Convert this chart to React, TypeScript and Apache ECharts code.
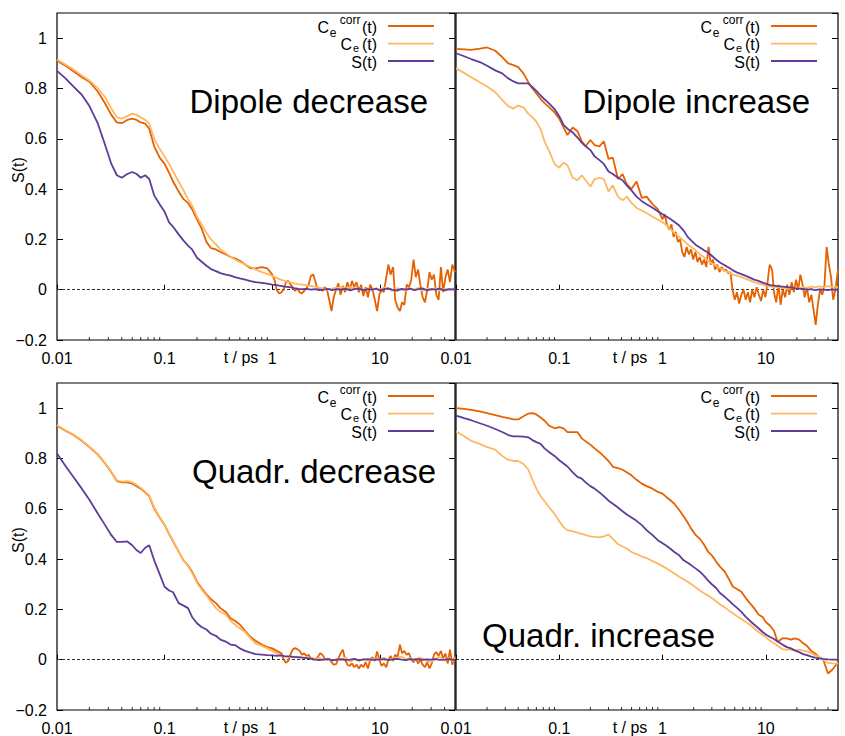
import React, { useEffect, useRef } from "react";
import * as echarts from "echarts";

// shared time grid (ps)
const T = [
  0.01, 0.012, 0.014, 0.017, 0.02, 0.024, 0.028, 0.032, 0.036, 0.04,
  0.045, 0.05, 0.055, 0.06, 0.066, 0.072, 0.08, 0.09, 0.1, 0.11,
  0.12, 0.135, 0.15, 0.165, 0.18, 0.2, 0.22, 0.245, 0.27, 0.3,
  0.33, 0.37, 0.41, 0.45, 0.5, 0.56, 0.63, 0.7, 0.8, 0.9,
  1, 1.1, 1.2, 1.3, 1.45, 1.6, 1.75, 1.9, 2.1, 2.3,
  2.5, 2.75, 3, 3.3, 3.6, 4, 4.4, 4.8, 5.3, 5.8,
  6.4, 7, 7.7, 8.5, 9.3, 10, 11, 12, 13, 14.5,
  16, 17.5, 19, 21, 23, 25, 27.5, 30, 33, 36,
  40, 44, 48, 50,
];

// denser time grid (ps) for the noisy tails of C_e^corr(t)
const TN = [
  1, 1.05, 1.1, 1.16, 1.22, 1.28, 1.34, 1.41, 1.48, 1.55,
  1.63, 1.71, 1.8, 1.89, 1.98, 2.08, 2.18, 2.29, 2.41, 2.53,
  2.65, 2.79, 2.93, 3.07, 3.23, 3.39, 3.56, 3.73, 3.92, 4.12,
  4.32, 4.54, 4.76, 5, 5.25, 5.52, 5.79, 6.08, 6.39, 6.7,
  7.04, 7.39, 7.76, 8.15, 8.56, 8.99, 9.44, 9.91, 10.4, 10.9,
  11.5, 12, 12.6, 13.3, 13.9, 14.6, 15.4, 16.1, 16.9, 17.8,
  18.7, 19.6, 20.6, 21.6, 22.7, 23.8, 25, 26.3, 27.6, 29,
  30.4, 31.9, 33.5, 35.2, 37, 38.8, 40.8, 42.8, 44.9, 47.2,
  50,
];

// Dipole decrease
const ddCorr = [
  0.91, 0.89, 0.87, 0.845, 0.827, 0.787, 0.74, 0.695, 0.665, 0.662,
  0.675, 0.68, 0.675, 0.665, 0.66, 0.64, 0.57, 0.525, 0.5, 0.465,
  0.43, 0.39, 0.36, 0.345, 0.32, 0.28, 0.245, 0.19, 0.165, 0.16,
  0.15, 0.14, 0.13, 0.125, 0.115, 0.1, 0.085, 0.085, 0.09, 0.085,
];
const ddCorrTail = [
  0.06, 0.04, 0.0, -0.015, -0.01, 0.0, 0.03, 0.035, 0.02, 0.01,
  -0.005, 0.005, -0.01, -0.015, -0.005, 0.005, 0.02, 0.055, 0.06, 0.03,
  0.0, 0.005, -0.005, 0.01, 0.0, -0.04, -0.085, -0.03, 0.0, 0.025,
  -0.02, 0.015, -0.01, 0.03, 0.0, 0.035, 0.01, 0.03, -0.01, 0.02,
  -0.025, 0.01, -0.03, 0.02, 0.0, -0.04, -0.085, -0.02, 0.0, -0.01,
  0.05, 0.1, 0.06, 0.09, -0.04, -0.07, -0.085, -0.05, -0.06, 0.02,
  0.01, 0.04, 0.12, 0.05, 0.08, 0.02, -0.03, -0.05, 0.0, 0.07,
  0.04, 0.06, -0.02, -0.04, 0.09, -0.01, 0.05, 0.08, 0.03, 0.1,
  0.07,
];
const ddCe = [
  0.915, 0.895, 0.877, 0.852, 0.832, 0.8, 0.765, 0.72, 0.685, 0.68,
  0.69, 0.7, 0.695, 0.685, 0.675, 0.66, 0.6, 0.56, 0.53, 0.5,
  0.47, 0.43, 0.395, 0.36, 0.335, 0.29, 0.26, 0.225, 0.2, 0.18,
  0.16, 0.145, 0.13, 0.12, 0.11, 0.1, 0.09, 0.08, 0.07, 0.063,
  0.055, 0.047, 0.04, 0.035, 0.03, 0.025, 0.022, 0.02, 0.017, 0.014,
  0.012, 0.008, 0.005, 0.0, 0.004, 0.008, 0.01, 0.006, 0.01, 0.003,
  0.007, 0.0, 0.005, -0.004, 0.006, 0.0, 0.008, 0.004, -0.005, 0.006,
  0.0, -0.006, 0.005, 0.0, 0.008, -0.004, 0.004, 0.0, 0.006, -0.003,
  0.004, 0.0, 0.005, 0.0,
];
const ddS = [
  0.87, 0.84, 0.81, 0.775, 0.73, 0.66, 0.575, 0.5, 0.455, 0.445,
  0.46, 0.468, 0.46, 0.445, 0.455, 0.44, 0.375, 0.34, 0.31, 0.268,
  0.25, 0.22, 0.195, 0.175, 0.16, 0.127, 0.112, 0.095, 0.082, 0.074,
  0.066, 0.06, 0.056, 0.05, 0.045, 0.04, 0.034, 0.03, 0.027, 0.024,
  0.02, 0.018, 0.015, 0.012, 0.01, 0.006, 0.003, 0.002, 0.003, 0.0,
  0.002, -0.002, 0.0, 0.003, -0.002, 0.002, 0.0, 0.004, -0.003, 0.002,
  0.005, -0.002, 0.002, 0.0, 0.004, -0.003, 0.002, 0.005, 0.0, -0.004,
  0.003, 0.0, 0.004, -0.002, 0.002, 0.005, -0.003, 0.002, 0.0, 0.004,
  -0.003, 0.002, 0.0, 0.003,
];

// Dipole increase
const diCorr = [
  0.957, 0.955, 0.953, 0.958, 0.963, 0.95, 0.925, 0.9, 0.893, 0.885,
  0.86, 0.826, 0.8, 0.78, 0.758, 0.742, 0.725, 0.705, 0.68, 0.645,
  0.615, 0.645, 0.63, 0.59, 0.57, 0.595, 0.575, 0.57, 0.59, 0.52,
  0.525, 0.44, 0.46, 0.42, 0.4, 0.43, 0.365, 0.37, 0.34, 0.32,
];
const diCorrTail = [
  0.28, 0.3, 0.26, 0.24, 0.26, 0.21, 0.23, 0.19, 0.2, 0.15,
  0.13, 0.17, 0.14, 0.16, 0.12, 0.15, 0.11, 0.13, 0.1, 0.12,
  0.09, 0.17, 0.1, 0.12, 0.08, 0.1, 0.07, 0.09, 0.075, 0.08,
  0.065, 0.07, 0.0, -0.04, -0.01, -0.055, -0.02, 0.0, -0.04, -0.01,
  -0.05, 0.0, -0.03, 0.01, -0.02, -0.045, 0.0, -0.03, 0.03, 0.1,
  0.08, -0.01, -0.05, 0.02, -0.06, 0.0, -0.03, 0.02, -0.02, 0.03,
  -0.01, 0.04, 0.0, 0.06, 0.02, -0.03, 0.01, -0.05, -0.02, -0.08,
  -0.14, -0.06, 0.0, -0.02, 0.02, 0.17, 0.1, 0.05, -0.04, 0.0,
  0.08,
];
const diCe = [
  0.88, 0.862, 0.845, 0.825, 0.808, 0.785, 0.755, 0.73, 0.72, 0.732,
  0.725, 0.7, 0.685, 0.668, 0.638, 0.59, 0.55, 0.5, 0.485, 0.505,
  0.495, 0.445, 0.435, 0.455, 0.435, 0.41, 0.44, 0.445, 0.44, 0.39,
  0.415, 0.37, 0.355, 0.37, 0.345, 0.325, 0.315, 0.305, 0.29, 0.278,
  0.268, 0.255, 0.24, 0.225, 0.21, 0.195, 0.18, 0.17, 0.155, 0.14,
  0.13, 0.115, 0.105, 0.095, 0.085, 0.075, 0.068, 0.06, 0.055, 0.05,
  0.043, 0.037, 0.03, 0.025, 0.02, 0.015, 0.012, 0.01, 0.01, 0.006,
  0.004, 0.005, 0.008, 0.006, 0.01, 0.007, 0.012, 0.009, 0.013, 0.01,
  0.014, 0.01, 0.012, 0.01,
];
const diS = [
  0.94, 0.928, 0.917, 0.905, 0.89, 0.872, 0.86, 0.84, 0.828, 0.82,
  0.82, 0.82, 0.805, 0.79, 0.772, 0.757, 0.74, 0.718, 0.69, 0.655,
  0.64, 0.625, 0.605, 0.585, 0.57, 0.555, 0.53, 0.515, 0.5, 0.47,
  0.46, 0.445, 0.435, 0.415, 0.395, 0.37, 0.352, 0.34, 0.326, 0.312,
  0.3, 0.29, 0.28, 0.27, 0.255, 0.235, 0.21, 0.195, 0.178, 0.168,
  0.158, 0.148, 0.135, 0.12, 0.108, 0.097, 0.087, 0.077, 0.068, 0.062,
  0.055, 0.048, 0.04, 0.035, 0.028, 0.024, 0.018, 0.016, 0.014, 0.012,
  0.01, 0.008, 0.006, 0.004, 0.003, 0.0, 0.002, -0.002, 0.001, 0.0,
  -0.002, 0.001, -0.001, 0.0,
];

// Quadrupole decrease
const qdCorr = [
  0.93, 0.91, 0.895, 0.87, 0.845, 0.815, 0.78, 0.745, 0.71, 0.705,
  0.705, 0.7, 0.69, 0.68, 0.665, 0.65, 0.6, 0.565, 0.535, 0.5,
  0.47, 0.43, 0.395, 0.375, 0.35, 0.31, 0.285, 0.26, 0.24, 0.225,
  0.205, 0.19, 0.165, 0.155, 0.14, 0.115, 0.09, 0.075, 0.06, 0.05,
];
const qdCorrTail = [
  0.045, 0.04, 0.035, 0.03, 0.025, 0.0, -0.012, -0.005, 0.02, 0.04,
  0.046, 0.042, 0.035, 0.02, 0.025, 0.015, 0.02, 0.005, 0.0, 0.003,
  0.01, 0.026, 0.02, 0.005, 0.0, 0.005, -0.01, -0.02, -0.018, 0.005,
  0.025, 0.04, 0.0, -0.02, -0.025, -0.015, -0.03, -0.02, -0.035, -0.02,
  -0.03, -0.01, -0.035, 0.0, 0.01, -0.005, 0.033, 0.0, -0.025, -0.015,
  -0.03, 0.0, 0.015, -0.005, 0.02, 0.01, 0.06, 0.025, 0.035, 0.02,
  0.025, 0.0, -0.01, 0.005, -0.015, 0.0, -0.02, -0.03, -0.01, -0.035,
  -0.015, 0.02, 0.03, 0.015, 0.035, 0.005, 0.025, -0.015, 0.04, -0.02,
  0.015,
];
const qdCe = [
  0.932, 0.912, 0.897, 0.872, 0.847, 0.817, 0.782, 0.747, 0.713, 0.708,
  0.71, 0.705, 0.695, 0.683, 0.668, 0.653, 0.605, 0.567, 0.537, 0.502,
  0.47, 0.43, 0.395, 0.372, 0.345, 0.305, 0.28, 0.255, 0.23, 0.205,
  0.19, 0.18, 0.155, 0.14, 0.125, 0.11, 0.085, 0.065, 0.055, 0.045,
  0.035, 0.025, 0.018, 0.012, 0.01, 0.012, 0.008, 0.01, 0.006, 0.008,
  0.002, 0.006, 0.0, 0.004, -0.005, 0.003, -0.003, 0.01, -0.008, 0.002,
  -0.006, 0.004, -0.004, 0.002, 0.006, 0.0, 0.008, -0.004, 0.004, 0.008,
  0.012, 0.002, 0.006, -0.003, 0.008, 0.004, -0.004, -0.01, 0.004, 0.012,
  -0.004, 0.006, -0.006, 0.008,
];
const qdS = [
  0.82, 0.77, 0.73, 0.68, 0.636, 0.58, 0.535, 0.495, 0.468, 0.468,
  0.47, 0.455, 0.435, 0.424, 0.445, 0.455, 0.395, 0.34, 0.29, 0.275,
  0.268, 0.225, 0.215, 0.205, 0.17, 0.145, 0.13, 0.12, 0.103, 0.095,
  0.08, 0.072, 0.06, 0.058, 0.045, 0.035, 0.028, 0.022, 0.02, 0.018,
  0.017, 0.015, 0.017, 0.014, 0.013, 0.01, 0.01, 0.008, 0.006, 0.004,
  0.0, -0.002, 0.0, 0.002, -0.003, 0.0, 0.002, -0.002, 0.0, 0.003,
  -0.002, 0.0, 0.002, -0.001, 0.001, 0.0, 0.002, -0.002, 0.001, 0.003,
  0.0, -0.002, 0.002, 0.0, 0.002, -0.001, 0.001, 0.0, 0.002, -0.001,
  0.0, 0.002, -0.001, 0.0,
];

// Quadrupole increase
const qiCorr = [
  1.0, 0.997, 0.993, 0.987, 0.98, 0.972, 0.965, 0.96, 0.955, 0.955,
  0.968, 0.978, 0.98, 0.975, 0.963, 0.95, 0.93, 0.92, 0.925, 0.92,
  0.905, 0.905, 0.905, 0.88, 0.868, 0.855, 0.84, 0.825, 0.808, 0.79,
  0.767, 0.762, 0.755, 0.745, 0.733, 0.715, 0.7, 0.69, 0.68, 0.667,
  0.66, 0.645, 0.633, 0.62, 0.595, 0.57, 0.545, 0.52, 0.495, 0.48,
  0.46, 0.43, 0.415, 0.39, 0.37, 0.35, 0.32, 0.29, 0.28, 0.27,
  0.245, 0.225, 0.205, 0.18, 0.17, 0.15, 0.135, 0.115, 0.07, 0.085,
  0.085, 0.08, 0.085, 0.08, 0.065, 0.055, 0.035, 0.025, 0.01, 0.0,
  -0.055, -0.04, -0.02, -0.01,
];
const qiCe = [
  0.907, 0.888, 0.87, 0.858, 0.845, 0.835, 0.81, 0.795, 0.79, 0.79,
  0.778, 0.757, 0.715, 0.68, 0.65, 0.63, 0.605, 0.58, 0.55, 0.527,
  0.515, 0.51, 0.505, 0.5, 0.495, 0.49, 0.488, 0.486, 0.49, 0.497,
  0.48, 0.46, 0.45, 0.442, 0.428, 0.42, 0.41, 0.404, 0.392, 0.382,
  0.372, 0.362, 0.352, 0.343, 0.33, 0.32, 0.31, 0.3, 0.287, 0.275,
  0.265, 0.255, 0.245, 0.232, 0.22, 0.208, 0.195, 0.185, 0.172, 0.162,
  0.15, 0.14, 0.125, 0.11, 0.098, 0.09, 0.075, 0.065, 0.055, 0.042,
  0.04, 0.04, 0.038, 0.04, 0.036, 0.033, 0.025, 0.018, 0.01, 0.0,
  -0.013, -0.015, -0.016, -0.016,
];
const qiS = [
  0.97, 0.96, 0.952, 0.94, 0.93, 0.917, 0.905, 0.893, 0.888, 0.888,
  0.887, 0.884, 0.873, 0.865, 0.858, 0.84, 0.825, 0.81, 0.793, 0.78,
  0.768, 0.745, 0.727, 0.72, 0.705, 0.69, 0.68, 0.665, 0.65, 0.632,
  0.62, 0.605, 0.59, 0.577, 0.565, 0.552, 0.535, 0.515, 0.495, 0.475,
  0.463, 0.452, 0.44, 0.428, 0.415, 0.395, 0.385, 0.375, 0.362, 0.35,
  0.335, 0.315, 0.3, 0.285, 0.265, 0.25, 0.235, 0.22, 0.205, 0.19,
  0.17, 0.155, 0.14, 0.125, 0.11, 0.1, 0.09, 0.082, 0.072, 0.06,
  0.05, 0.045, 0.037, 0.03, 0.022, 0.018, 0.012, 0.008, 0.005, 0.003,
  0.001, 0.0, 0.0, -0.002,
];

const X_MIN = 0.01;
const X_MAX = 50;
const Y_MIN = -0.2;
const Y_MAX = 1.1;
const Y_STEP = 0.2;

const COL_CORR = "#e66101";
const COL_CE = "#fdb863";
const COL_S = "#5e3c99";
const FONT = '"Liberation Sans", Arial, Helvetica, sans-serif';

type Panel = {
  title: string;
  left: number;
  top: number;
  width: number;
  height: number;
  corr: number[];
  corrTail?: number[];
  ce: number[];
  s: number[];
  yLabels: boolean;
  titleX: number;
  titleY: number;
  tpsX: number;
};

const panels: Panel[] = [
  { title: "Dipole decrease", left: 57, top: 13, width: 398, height: 327, corr: ddCorr, corrTail: ddCorrTail, ce: ddCe, s: ddS, yLabels: true, titleX: 428, titleY: 101, tpsX: 241 },
  { title: "Dipole increase", left: 456, top: 13, width: 382, height: 327, corr: diCorr, corrTail: diCorrTail, ce: diCe, s: diS, yLabels: false, titleX: 810, titleY: 101, tpsX: 630 },
  { title: "Quadr. decrease", left: 57, top: 383, width: 398, height: 327, corr: qdCorr, corrTail: qdCorrTail, ce: qdCe, s: qdS, yLabels: true, titleX: 436, titleY: 471, tpsX: 241 },
  { title: "Quadr. increase", left: 456, top: 383, width: 382, height: 327, corr: qiCorr, ce: qiCe, s: qiS, yLabels: false, titleX: 715, titleY: 635, tpsX: 630 },
];

function minorTickValues(): number[] {
  const out: number[] = [];
  for (let k = -2; k <= 1; k++) {
    for (let m = 2; m <= 9; m++) {
      const v = m * Math.pow(10, k);
      if (v < X_MAX) out.push(v);
    }
  }
  return out;
}

function txt(text: string, x: number, y: number, size: number, align: string, vAlign = "middle", rotation = 0) {
  return {
    type: "text",
    x,
    y,
    rotation,
    silent: true,
    z: 100,
    style: {
      text,
      fill: "#000",
      font: `${size}px ${FONT}`,
      align,
      textAlign: align,
      verticalAlign: vAlign,
      textVerticalAlign: vAlign,
    },
  };
}

function legendGraphics(p: Panel) {
  const rx = p.left + p.width;
  const ry = p.top;
  const g: any[] = [];
  // row 1: C_e^corr(t)
  g.push(txt("C", rx - 126, ry + 14.5, 16, "right"));
  g.push(txt("e", rx - 118.5, ry + 20, 12, "right"));
  g.push(txt("corr", rx - 94.5, ry + 7, 12, "right"));
  g.push(txt("(t)", rx - 78, ry + 14.5, 16, "right"));
  // row 2: C_e(t)
  g.push(txt("C", rx - 103, ry + 31, 16, "right"));
  g.push(txt("e", rx - 96, ry + 35, 11, "right"));
  g.push(txt("(t)", rx - 78, ry + 31.5, 16, "right"));
  // row 3: S(t)
  g.push(txt("S(t)", rx - 78, ry + 49, 16, "right"));
  const rows = [
    { y: ry + 13, c: COL_CORR },
    { y: ry + 30.7, c: COL_CE },
    { y: ry + 48, c: COL_S },
  ];
  rows.forEach((r) => {
    g.push({
      type: "line",
      silent: true,
      z: 100,
      shape: { x1: rx - 67, y1: r.y, x2: rx - 21, y2: r.y },
      style: { stroke: r.c, lineWidth: 1.8 },
    });
  });
  return g;
}

function buildOption() {
  const grids: any[] = [];
  const xAxes: any[] = [];
  const yAxes: any[] = [];
  const series: any[] = [];
  const graphic: any[] = [];
  const minors = minorTickValues();

  const xFmt = (v: number) => (v >= 1 ? String(Math.round(v)) : String(Number(v.toPrecision(1))));
  const yFmt = (v: number) => {
    const r = Math.round(v * 10) / 10;
    return r < 0 ? "\u2212" + String(-r) : String(r);
  };

  panels.forEach((p, i) => {
    grids.push({
      left: p.left,
      top: p.top,
      width: p.width,
      height: p.height,
      show: true,
      borderColor: "#000",
      borderWidth: 1.2,
      backgroundColor: "transparent",
      containLabel: false,
    });
    xAxes.push({
      gridIndex: i,
      type: "log",
      logBase: 10,
      min: X_MIN,
      max: X_MAX,
      axisLine: { show: false },
      axisTick: { show: true, inside: true, length: 5, lineStyle: { color: "#000", width: 1 } },
      axisLabel: {
        show: true,
        interval: 0,
        showMaxLabel: false,
        color: "#000",
        fontSize: 16,
        fontFamily: FONT,
        margin: 10,
        formatter: xFmt,
      },
      splitLine: { show: false },
    });
    yAxes.push({
      gridIndex: i,
      type: "value",
      position: "left",
      min: Y_MIN,
      max: Y_MAX,
      interval: Y_STEP,
      axisLine: { show: false },
      axisTick: { show: p.yLabels, inside: true, length: 6, lineStyle: { color: "#000", width: 1 } },
      axisLabel: {
        show: p.yLabels,
        showMaxLabel: false,
        color: "#000",
        fontSize: 16,
        fontFamily: FONT,
        margin: 10,
        formatter: yFmt,
      },
      splitLine: { show: false },
    });
    yAxes.push({
      gridIndex: i,
      type: "value",
      position: "right",
      min: Y_MIN,
      max: Y_MAX,
      interval: Y_STEP,
      axisLine: { show: false },
      axisTick: { show: true, inside: true, length: 6, lineStyle: { color: "#000", width: 1 } },
      axisLabel: { show: false },
      splitLine: { show: false },
    });
    const base = {
      type: "line",
      xAxisIndex: i,
      yAxisIndex: 2 * i,
      showSymbol: false,
      symbol: "none",
      silent: true,
    };
    const corrData: number[][] = p.corr.map((v, k) => [T[k], v]);
    if (p.corrTail) {
      p.corrTail.forEach((v, k) => corrData.push([TN[k], v]));
    }
    series.push({
      ...base,
      name: "C_e^corr(t)",
      data: corrData,
      lineStyle: { color: COL_CORR, width: 1.8 },
      itemStyle: { color: COL_CORR },
      z: 3,
      markLine: {
        silent: true,
        symbol: ["none", "none"],
        label: { show: false },
        lineStyle: { type: [3, 2], color: "#333", width: 1 },
        data: [{ yAxis: 0 }],
        z: 1,
      },
    });
    series.push({
      ...base,
      name: "C_e(t)",
      data: T.map((t, k) => [t, p.ce[k]]),
      lineStyle: { color: COL_CE, width: 1.8 },
      itemStyle: { color: COL_CE },
      z: 4,
    });
    series.push({
      ...base,
      name: "S(t)",
      data: T.map((t, k) => [t, p.s[k]]),
      lineStyle: { color: COL_S, width: 1.8 },
      itemStyle: { color: COL_S },
      z: 5,
    });
    series.push({
      type: "scatter",
      xAxisIndex: i,
      yAxisIndex: 2 * i,
      silent: true,
      clip: false,
      symbol: "rect",
      symbolSize: [1, 3],
      symbolOffset: [0, -1.5],
      itemStyle: { color: "#000" },
      data: minors.map((v) => [v, Y_MIN]),
      z: 6,
    });

    graphic.push(txt(p.title, p.titleX, p.titleY, 33, "right"));
    graphic.push(txt("t / ps", p.tpsX, p.top + p.height + 17.5, 16, "center"));
    if (p.yLabels) {
      graphic.push(txt("S(t)", 18, p.top + 157, 16, "center", "middle", Math.PI / 2));
    }
    legendGraphics(p).forEach((g) => graphic.push(g));
  });

  return {
    animation: false,
    backgroundColor: "#fff",
    grid: grids,
    xAxis: xAxes,
    yAxis: yAxes,
    series,
    graphic,
  };
}

export default function App() {
  const ref = useRef<HTMLDivElement>(null);
  useEffect(() => {
    document.body.style.margin = "0";
    const el = ref.current;
    if (!el) return;
    const chart = echarts.init(el, null, { renderer: "svg" });
    chart.setOption(buildOption() as any);
    return () => chart.dispose();
  }, []);
  return <div ref={ref} style={{ width: 845, height: 736 }} />;
}
